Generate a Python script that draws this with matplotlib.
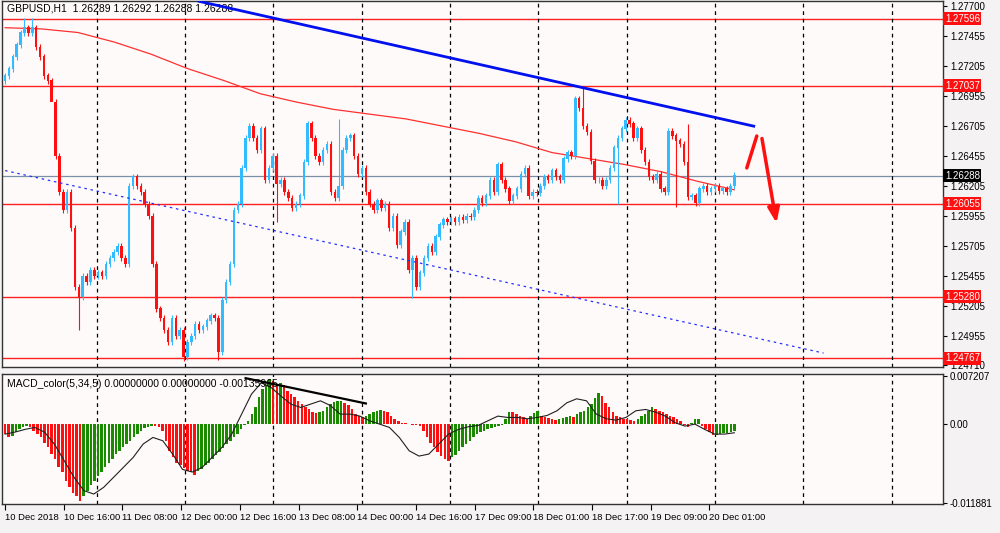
import matplotlib
matplotlib.use("Agg")
from matplotlib import pyplot as plt
import numpy as np

plt.rcParams['font.family'] = ['Liberation Sans', 'DejaVu Sans']

# hourly closes
closes = [
    1.2712, 1.2718, 1.2728, 1.2738, 1.2748, 1.2752, 1.2748, 1.2752, 1.2736, 1.2728, 1.2712, 1.2708, 1.2690, 1.2645, 1.2615, 1.2600,
    1.2615, 1.2585, 1.2536, 1.2528, 1.2545, 1.2540, 1.2550, 1.2545, 1.2548, 1.2545, 1.2555, 1.2560, 1.2565, 1.2570, 1.2560, 1.2555,
    1.2620, 1.2628, 1.2620, 1.2615, 1.2605, 1.2595, 1.2555, 1.2518, 1.2510, 1.2500, 1.2490, 1.2510, 1.2495, 1.2500, 1.2478, 1.2490,
    1.2495, 1.2505, 1.2500, 1.2503, 1.2508, 1.2512, 1.2510, 1.2482, 1.2525, 1.2540, 1.2555, 1.2600, 1.2605, 1.2635, 1.2660, 1.2670, 1.2660,
    1.2650, 1.2668, 1.2625, 1.2635, 1.2645, 1.2622, 1.2625, 1.2615, 1.2610, 1.2602, 1.2605, 1.2612, 1.2640, 1.2672, 1.2660, 1.2645,
    1.2640, 1.2650, 1.2655, 1.2615, 1.2610, 1.2620, 1.2650, 1.2660, 1.2662, 1.2645, 1.2630, 1.2635, 1.2615, 1.2605, 1.2600, 1.2608,
    1.2602, 1.2605, 1.2585, 1.2595, 1.2571, 1.2582, 1.2590, 1.2550, 1.2560, 1.2536, 1.2548, 1.2560, 1.2570, 1.2565, 1.2578, 1.2588,
    1.2592, 1.2590, 1.2593, 1.2590, 1.2594, 1.2592, 1.2595, 1.2594, 1.2600, 1.2610, 1.2606, 1.2612, 1.2625,
    1.2615, 1.2638, 1.2625, 1.2618, 1.2608, 1.2612, 1.2618, 1.2630, 1.2635, 1.2612, 1.2615, 1.2614, 1.2620, 1.2628, 1.2625, 1.2633,
    1.2628, 1.2625, 1.2643, 1.2648, 1.2645, 1.2693, 1.2685, 1.2670, 1.2665, 1.2641, 1.2625, 1.2625, 1.2620, 1.2625, 1.2635, 1.2652,
    1.2660, 1.2668, 1.2675, 1.2672, 1.2660, 1.2668, 1.2650, 1.2640, 1.2628, 1.2625, 1.2630, 1.2618, 1.2615, 1.2666, 1.2662, 1.2658,
    1.2655, 1.2640, 1.2611, 1.2612, 1.2606, 1.2618, 1.2620, 1.2615, 1.2618, 1.2620, 1.2616, 1.2618, 1.2615, 1.2620, 1.2629,
]
first_open = 1.2708
wick = 0.00025
# a few long wicks: (bar, price)
long_highs = [(5, 1.2760), (7, 1.2760), (86, 1.2676), (149, 1.2703), (176, 1.2672)]
long_lows = [(12, 1.2700), (19, 1.2500), (46, 1.2474), (55, 1.2475), (70, 1.2590), (105, 1.2527), (158, 1.2605), (173, 1.2603)]

ma_values = [1.2752, 1.2751, 1.2748, 1.2740, 1.2730, 1.2718, 1.2708, 1.2697, 1.2690, 1.2684, 1.2680, 1.2676,
             1.2670, 1.2664, 1.2657, 1.2648, 1.2643, 1.2638, 1.2632, 1.2624, 1.2617]

levels = [1.27596, 1.27037, 1.26055, 1.25280, 1.24767]
bid = 1.26288
price_ticks = [1.27700, 1.27455, 1.27205, 1.26955, 1.26705, 1.26455, 1.26205, 1.25955, 1.25705, 1.25455, 1.25205, 1.24955, 1.24710]

# trend lines as (bar, price) pairs
top_line = [(50, 1.2774), (193, 1.2670)]
low_line = [(0, 1.2633), (211, 1.2481)]
arrow_up = [(191, 1.2633), (194, 1.2664)]
arrow_down = [(195, 1.2662), (199, 1.2587)]

hist = [
    -0.0015, -0.0020, -0.0018, -0.0012, -0.0008, -0.0005, -0.0003, -0.0005, -0.0010, -0.0015, -0.0020, -0.0028, -0.0035, -0.0045,
    -0.0052, -0.0065, -0.0072, -0.0085, -0.0095, -0.0103, -0.0108, -0.0115, -0.0108, -0.0100, -0.0092, -0.0085, -0.0078, -0.0072,
    -0.0065, -0.0058, -0.0052, -0.0045, -0.0040, -0.0035, -0.0030, -0.0025, -0.0020, -0.0015, -0.0010, -0.0006, -0.0004, -0.0003,
    -0.0003, -0.0004, -0.0010, -0.0025, -0.0040, -0.0050, -0.0058, -0.0062, -0.0066, -0.0070, -0.0072, -0.0076, -0.0070, -0.0068,
    -0.0062, -0.0058, -0.0052, -0.0047, -0.0042, -0.0036, -0.0030, -0.0025, -0.0020, -0.0015, -0.0008, -0.0002, 0.0005, 0.0015,
    0.0025, 0.0040, 0.0052, 0.0058, 0.0068, 0.0064, 0.0060, 0.0062, 0.0058, 0.0050, 0.0045, 0.0040, 0.0035, 0.0030, 0.0025, 0.0022,
    0.0018, 0.0017, 0.0018, 0.0020, 0.0025, 0.0030, 0.0033, 0.0034, 0.0035, 0.0032, 0.0028, 0.0022, 0.0015, 0.0012, 0.0010, 0.0012,
    0.0015, 0.0018, 0.0020, 0.0021, 0.0020, 0.0018, 0.0012, 0.0008, 0.0004, 0.0002, 0.0001, 0.0000, -0.0001, -0.0002, -0.0003,
    -0.0010, -0.0020, -0.0028, -0.0035, -0.0042, -0.0048, -0.0052, -0.0055, -0.0050, -0.0046, -0.0040, -0.0035, -0.0030, -0.0025,
    -0.0020, -0.0015, -0.0012, -0.0010, -0.0008, -0.0006, -0.0005, -0.0003, -0.0001,
    0.0008, 0.0018, 0.0018, 0.0015, 0.0012, 0.0010, 0.0008, 0.0012, 0.0016, 0.0019, 0.0012, 0.0010, 0.0009, 0.0008, 0.0006, 0.0008,
    0.0009, 0.0010, 0.0012, 0.0011, 0.0015, 0.0018, 0.0020, 0.0025, 0.0030, 0.0039, 0.0046, 0.0042, 0.0032, 0.0025, 0.0018, 0.0012,
    0.0010, 0.0008, 0.0007, 0.0006, 0.0005, 0.0008, 0.0012, 0.0015, 0.0020, 0.0025, 0.0022, 0.0020, 0.0018, 0.0015, 0.0012, 0.0010,
    0.0008, 0.0004, -0.0002, -0.0005, 0.0001, 0.0007, 0.0008, -0.0003, -0.0008, -0.0012, -0.0017, -0.0016, -0.0015, -0.0014,
    -0.0013, -0.0012, -0.0011,
]
signal = [
    -0.0015, -0.0012, -0.0008, -0.0005, -0.0012, -0.0030, -0.0055, -0.0080, -0.0100, -0.0105, -0.0095, -0.0080, -0.0065, -0.0050,
    -0.0030, -0.0020, -0.0025, -0.0045, -0.0068, -0.0072, -0.0065, -0.0050, -0.0035, -0.0015, 0.0015, 0.0045, 0.0062, 0.0055,
    0.0042, 0.0030, 0.0025, 0.0030, 0.0035, 0.0028, 0.0015, 0.0015, 0.0012, 0.0005, 0.0000, -0.0005, -0.0020, -0.0040, -0.0048,
    -0.0045, -0.0030, -0.0015, -0.0008, -0.0004, -0.0002, 0.0005, 0.0012, 0.0010, 0.0010, 0.0008, 0.0010, 0.0013, 0.0020, 0.0032,
    0.0038, 0.0035, 0.0015, 0.0008, 0.0006, 0.0010, 0.0020, 0.0022, 0.0018, 0.0012, 0.0002, -0.0003, 0.0000, -0.0008, -0.0015,
    -0.0015, -0.0013,
]
macd_line = [(62, 0.0069), (93, 0.0031)]

date_labels = ["10 Dec 2018", "10 Dec 16:00", "11 Dec 08:00", "12 Dec 00:00", "12 Dec 16:00", "13 Dec 08:00",
               "14 Dec 00:00", "14 Dec 16:00", "17 Dec 09:00", "18 Dec 01:00", "18 Dec 17:00", "19 Dec 09:00",
               "20 Dec 01:00"]

N = len(closes)
opens = [first_open] + closes[:-1]
highs = [max(o, c) + wick for o, c in zip(opens, closes)]
lows = [min(o, c) - wick for o, c in zip(opens, closes)]
for i, p in long_highs:
    highs[i] = p
for i, p in long_lows:
    lows[i] = p

bg = '#fffafa'
up_col = '#33bbff'
dn_col = '#ff1010'
step = 3.9  # px per bar
xmax = 943 / step
label_every = 59 / step
grid_every = 88.8 / step

fig = plt.figure(figsize=(10, 5.33), dpi=100, facecolor='#f4f2f2')
ax = fig.add_axes([0.002, 0.311, 0.941, 0.687], facecolor=bg)
ax2 = fig.add_axes([0.002, 0.054, 0.941, 0.244], facecolor=bg)

for i in range(N):
    col = up_col if closes[i] >= opens[i] else dn_col
    ax.vlines(i, lows[i], highs[i], color=col, lw=0.8, zorder=3)
    ax.bar(i, abs(closes[i] - opens[i]) + 0.00003, bottom=min(opens[i], closes[i]), width=0.65, color=col, zorder=3, lw=0)

ma_x = np.linspace(0, N - 1, len(ma_values))
ax.plot(ma_x, ma_values, color='#ff3030', lw=0.9, zorder=2)

for lv in levels:
    ax.axhline(lv, color='#ff2020', lw=1.0, zorder=1)
    ax.text(1.002, lv, f'{lv:.5f}', transform=ax.get_yaxis_transform(), fontsize=7, color='white', va='center',
            ha='left', bbox=dict(boxstyle='square,pad=0.15', fc='#ff1010', ec='none'), clip_on=False, zorder=5)
ax.axhline(bid, color='#7890a8', lw=0.9, zorder=1)
ax.text(1.002, bid, f'{bid:.5f}', transform=ax.get_yaxis_transform(), fontsize=7, color='white', va='center',
        ha='left', bbox=dict(boxstyle='square,pad=0.15', fc='black', ec='none'), clip_on=False, zorder=5)

ax.plot(*zip(*top_line), color='#0010ee', lw=2.0, zorder=4)
ax.plot(*zip(*low_line), color='#2030ff', lw=0.9, ls=(0, (2, 3)), zorder=4)
ax.annotate('', xy=arrow_up[1], xytext=arrow_up[0], arrowprops=dict(arrowstyle='-', color=dn_col, lw=2.5))
ax.annotate('', xy=arrow_down[1], xytext=arrow_down[0],
            arrowprops=dict(arrowstyle='-|>,head_width=0.35,head_length=0.9', color=dn_col, lw=2.5))

grid_x = np.arange(23.6, xmax, grid_every)
for a in (ax, ax2):
    for gx in grid_x:
        a.axvline(gx, color='black', lw=0.9, ls=(0, (3, 3)), zorder=1)
    a.set_xlim(-0.8, xmax)
    a.yaxis.tick_right()
    a.tick_params(axis='y', labelsize=7, length=3, pad=2)
    for s in a.spines.values():
        s.set_linewidth(1.0)
        s.set_color('#333333')

ax.set_ylim(1.24692, 1.27742)
ax.set_yticks(price_ticks)
ax.set_yticklabels([f'{p:.5f}' for p in price_ticks])
ax.set_xticks([])
ax.text(0.005, 0.993, 'GBPUSD,H1  1.26289 1.26292 1.26288 1.26288', transform=ax.transAxes, fontsize=7.5,
        va='top', ha='left')

hx = np.linspace(0, N - 1, len(hist))
hcols = ['#1a8a00' if i > 0 and hist[i] > hist[i - 1] else dn_col for i in range(len(hist))]
ax2.bar(hx, hist, width=0.7 * (N - 1) / (len(hist) - 1), color=hcols, lw=0, zorder=2)
sx = np.linspace(0, N - 1, len(signal))
ax2.plot(sx, signal, color='#202020', lw=0.8, zorder=3)
ax2.plot(*zip(*macd_line), color='black', lw=1.6, zorder=4)
ax2.set_ylim(-0.01203, 0.0075)
ax2.set_yticks([0.007207, 0.0, -0.011881])
ax2.set_yticklabels(['0.007207', '0.00', '-0.011881'])
ax2.text(0.005, 0.96, 'MACD_color(5,34,5) 0.00000000 0.00000000 -0.00135965', transform=ax2.transAxes,
         fontsize=7.5, va='top', ha='left')
ax2.set_xticks(np.arange(len(date_labels)) * label_every)
ax2.set_xticklabels(date_labels, fontsize=6.8, ha='left')
ax2.tick_params(axis='x', length=4, pad=2)

fig.savefig('out.png', dpi=100, facecolor=fig.get_facecolor())
